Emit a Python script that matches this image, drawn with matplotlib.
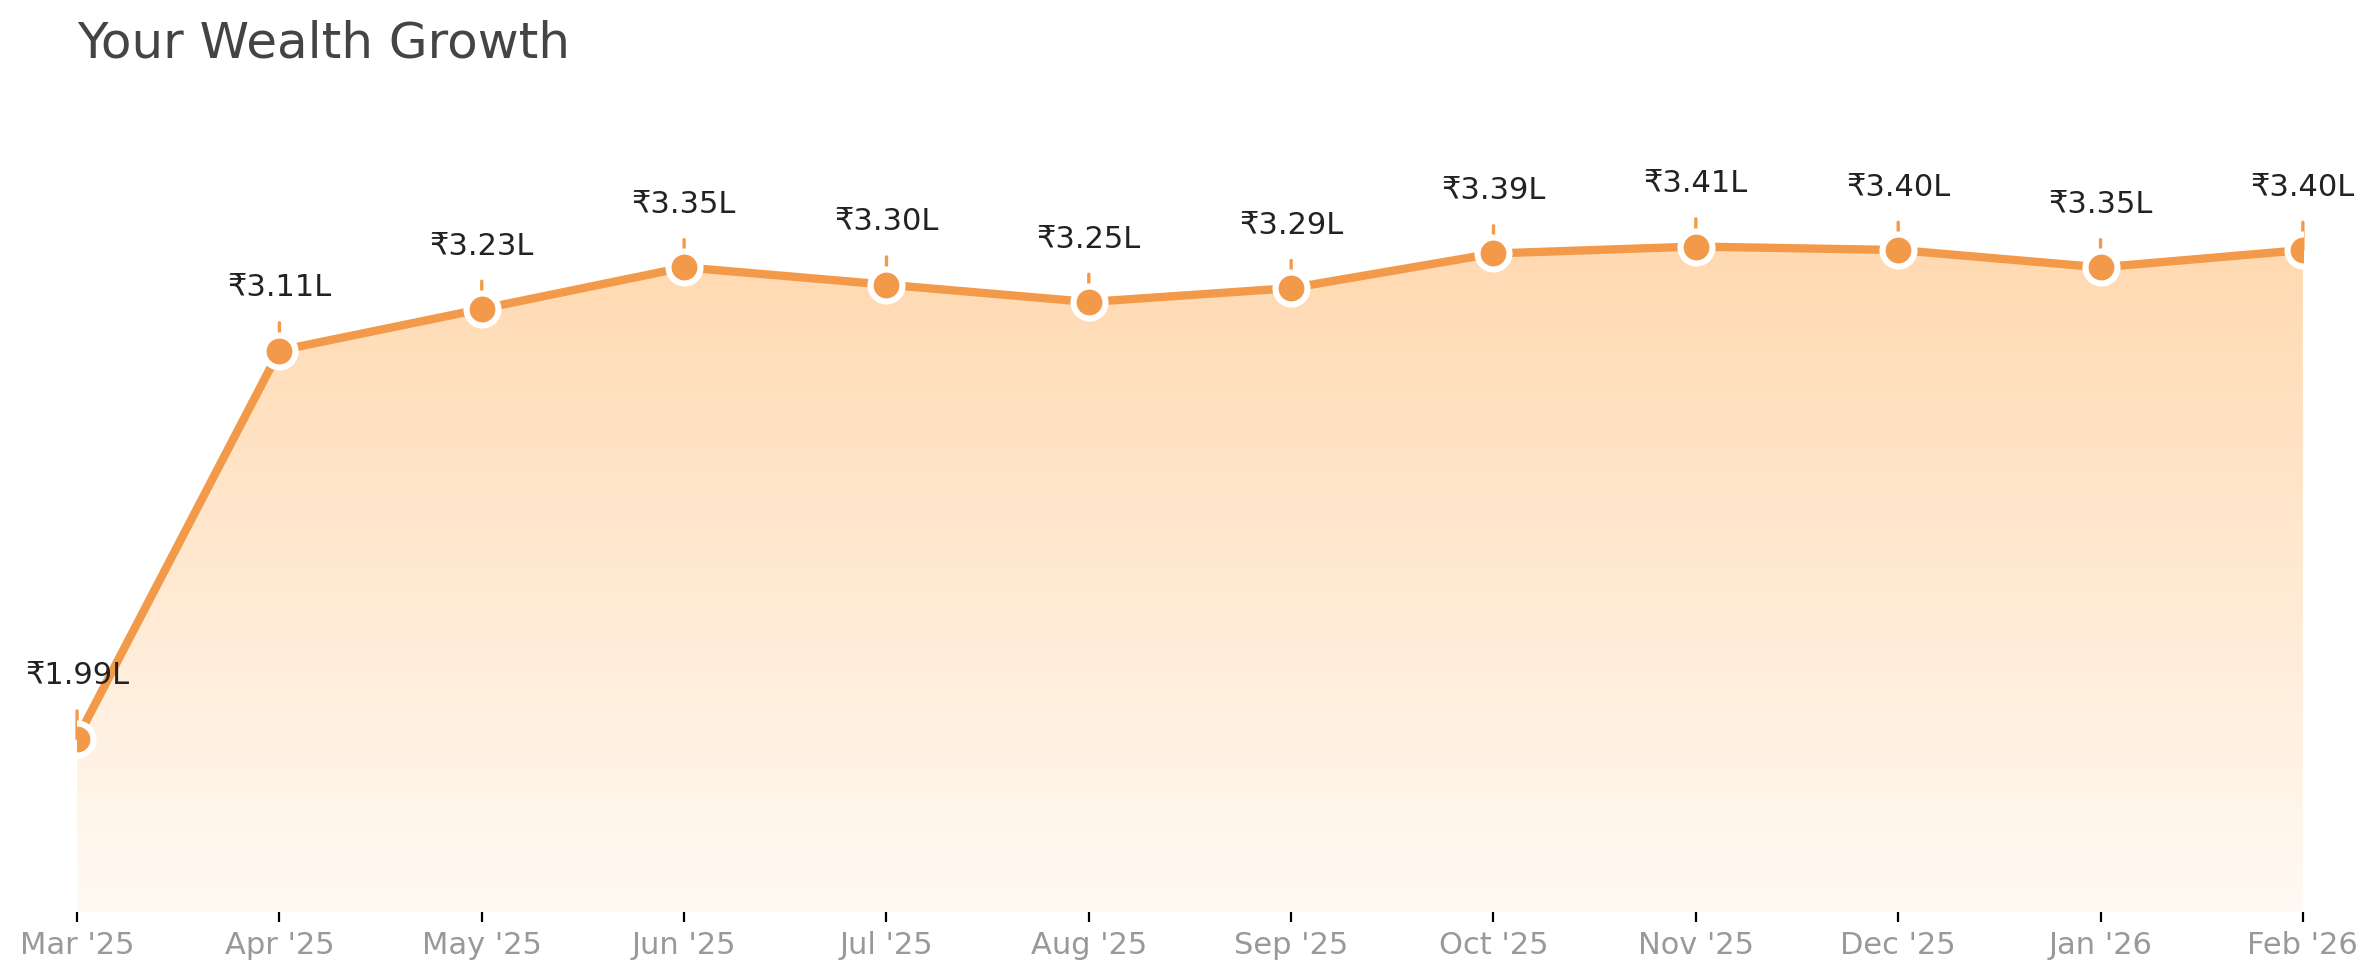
import matplotlib.pyplot as plt
import numpy as np
from matplotlib.colors import LinearSegmentedColormap
from matplotlib.patches import Polygon

# Wealth values in lakhs
months = ["Mar '25", "Apr '25", "May '25", "Jun '25", "Jul '25", "Aug '25",
          "Sep '25", "Oct '25", "Nov '25", "Dec '25", "Jan '26", "Feb '26"]
wealth = [1.99, 3.11, 3.23, 3.35, 3.30, 3.25, 3.29, 3.39, 3.41, 3.40, 3.35, 3.40]

line_color = "#F39A4A"

fig = plt.figure(figsize=(11.895, 4.895), dpi=200)
ax = fig.add_axes([0.0324, 0.0675, 0.9356, 0.80])

x = np.arange(len(months))
y = np.array(wealth)
ymin, ymax = 1.49, 3.75
ax.set_xlim(0, len(months) - 1)
ax.set_ylim(ymin, ymax)

# gradient fill under the line
cmap = LinearSegmentedColormap.from_list("fade", ["#FFFAF4", "#FFD9B0"])
grad = np.linspace(0, 1, 256).reshape(-1, 1)
im = ax.imshow(grad, cmap=cmap, aspect="auto", origin="lower",
               extent=[0, len(months) - 1, ymin, y.max()], zorder=1)
verts = [(x[0], ymin)] + list(zip(x, y)) + [(x[-1], ymin)]
clip = Polygon(verts, closed=True, facecolor="none", edgecolor="none",
               transform=ax.transData)
ax.add_patch(clip)
im.set_clip_path(clip)

# small stems above each point
for xi, yi in zip(x, y):
    ax.annotate("", xy=(xi, yi), xytext=(0, 10), textcoords="offset points",
                arrowprops=dict(arrowstyle="-", color=line_color, lw=1.2,
                                shrinkA=0, shrinkB=0), zorder=2)

ax.plot(x, y, color=line_color, lw=3, zorder=3, marker="o", markersize=11.5,
        markerfacecolor=line_color, markeredgecolor="white", markeredgewidth=2.2)

for xi, yi in zip(x, y):
    ax.annotate(f"₹{yi:.2f}L", xy=(xi, yi), xytext=(0, 23),
                textcoords="offset points", ha="center", va="center",
                fontsize=11, color="#222222", annotation_clip=False)

ax.set_xticks(x)
ax.set_xticklabels(months, fontsize=11, color="#999999")
ax.tick_params(axis="x", length=3.5, width=0.8, color="black", pad=3)
ax.set_yticks([])
for s in ax.spines.values():
    s.set_visible(False)

fig.text(0.0324, 0.98, "Your Wealth Growth", fontsize=18, color="#444444",
         ha="left", va="top")

fig.savefig("out.png", dpi=200)
